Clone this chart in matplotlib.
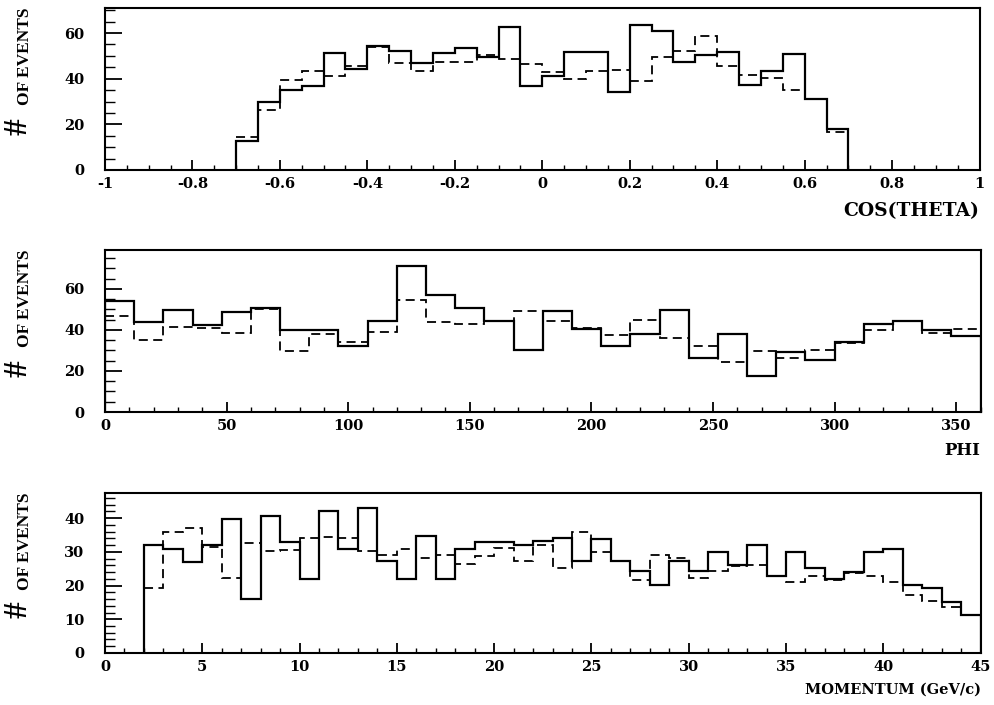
"""
Event distributions: cos(theta), phi, momentum
solid = data, dashed = MC
"""
import matplotlib
matplotlib.use("Agg")
import matplotlib.pyplot as plt
import numpy as np
from matplotlib.ticker import MultipleLocator, FuncFormatter

plt.rcParams["font.family"] = ["DejaVu Serif"]
plt.rcParams["font.weight"] = "bold"

# ============================================================
# data
# ============================================================
# cos(theta): 28 bins of 0.05 from -0.7 to 0.7
cos_edges = np.linspace(-0.7, 0.7, 29)
cos_data = [12.5, 29.9, 34.9, 37.0, 51.2, 44.1, 54.4, 52.2, 47.0, 51.2,
            53.4, 49.3, 62.5, 37.0, 41.2, 51.5, 51.5, 34.3, 63.7, 60.7,
            47.4, 50.4, 51.5, 37.2, 43.4, 50.7, 31.2, 18.1]
cos_mc = [14.3, 26.2, 39.4, 43.4, 41.2, 45.6, 53.7, 47.0, 43.4, 47.4,
          47.4, 50.4, 48.5, 46.6, 42.9, 39.7, 43.4, 43.7, 39.0, 49.3,
          52.2, 58.8, 45.6, 41.6, 40.4, 35.0, 31.2, 16.5]

# phi: 30 bins of 12 degrees
phi_edges = np.linspace(0, 360, 31)
phi_data = [54.0, 43.9, 49.6, 42.6, 48.9, 50.7, 39.8, 39.8, 32.0, 44.2,
            71.4, 57.2, 50.7, 44.2, 30.4, 49.1, 40.5, 32.4, 38.2, 49.9,
            26.3, 38.0, 17.7, 29.3, 25.5, 34.0, 43.1, 44.4, 40.2, 36.9]
phi_mc = [46.7, 35.3, 41.3, 41.0, 38.5, 50.2, 29.9, 38.2, 34.3, 38.9,
          54.5, 43.9, 42.9, 44.2, 49.1, 44.6, 41.0, 37.4, 44.7, 36.1,
          32.0, 24.4, 29.9, 26.3, 30.1, 33.7, 39.8, 44.2, 38.5, 40.5]

# momentum: 43 bins of 1 GeV/c from 2 to 45
mom_edges = np.linspace(2, 45, 44)
mom_data = [31.9, 30.8, 27.0, 31.9, 39.7, 16.0, 40.8, 32.9, 22.0, 42.0,
            30.8, 43.0, 27.2, 22.0, 34.8, 22.0, 30.9, 32.9, 32.9, 31.9,
            33.1, 34.1, 27.2, 33.9, 27.2, 24.2, 20.2, 27.2, 24.2, 30.1,
            26.0, 32.1, 22.9, 30.1, 25.2, 22.0, 24.0, 30.1, 30.9, 20.2,
            19.3, 15.1, 11.4]
mom_mc = [19.3, 36.0, 37.0, 31.4, 22.2, 32.6, 30.3, 30.6, 34.1, 34.3,
          34.1, 30.3, 29.1, 30.9, 28.1, 29.1, 26.4, 28.8, 31.1, 27.2,
          32.0, 25.2, 35.8, 30.1, 27.4, 21.7, 29.1, 28.1, 22.4, 24.4,
          25.9, 26.2, 22.7, 21.0, 22.9, 21.7, 23.7, 22.7, 21.2, 17.3,
          15.3, 13.5, 11.4]

# ============================================================
# figure
# ============================================================
fig = plt.figure(figsize=(9.95, 7.05), dpi=100)

panels = [
    # edges, data, mc, xlim, ylim, xmaj, xmin, ymaj, ymin, xlabel, size, rect, label y
    (cos_edges, cos_data, cos_mc, (-1, 1), (0, 71), 0.2, 0.05, 20, 5,
     "COS(THETA)", 13.5, [0.1055, 0.7589, 0.879, 0.2298], -0.255),
    (phi_edges, phi_data, phi_mc, (0, 360), (0, 79), 50, 10, 20, 5,
     "PHI", 12, [0.1055, 0.4156, 0.880, 0.2298], -0.240),
    (mom_edges, mom_data, mom_mc, (0, 45), (0, 47.5), 5, 1, 10, 2,
     "MOMENTUM (GeV/c)", 10.5, [0.1055, 0.0738, 0.880, 0.2270], -0.231),
]


def fmt(v, pos):
    v = round(v, 6)
    if v == 0:
        return "0"
    return f"{v:g}"


for (edges, data, mc, xlim, ylim, xmaj, xmin, ymaj, ymin,
     xlab, xlab_size, rect, xly) in panels:
    ax = fig.add_axes(rect)
    ax.stairs(mc, edges, baseline=None, color="black", lw=1.3,
              linestyle=(0, (5, 3)))
    ax.stairs(data, edges, baseline=0, color="black", lw=1.6)

    ax.set_xlim(*xlim)
    ax.set_ylim(*ylim)
    ax.xaxis.set_major_locator(MultipleLocator(xmaj))
    ax.xaxis.set_minor_locator(MultipleLocator(xmin))
    ax.yaxis.set_major_locator(MultipleLocator(ymaj))
    ax.yaxis.set_minor_locator(MultipleLocator(ymin))
    ax.xaxis.set_major_formatter(FuncFormatter(fmt))

    for s in ax.spines.values():
        s.set_linewidth(1.5)
    ax.tick_params(axis="x", which="major", direction="in", length=7,
                   width=1.3, pad=5, labelsize=10.5)
    ax.tick_params(axis="x", which="minor", direction="in", length=3.5,
                   width=1.0)
    ax.tick_params(axis="y", which="major", direction="in", length=12,
                   width=1.3, pad=15, labelsize=10.5)
    ax.tick_params(axis="y", which="minor", direction="in", length=7,
                   width=1.0)

    ax.text(1.0, xly, xlab, transform=ax.transAxes, ha="right",
            va="center", fontsize=xlab_size, fontweight="bold")
    ax.text(-0.099, 0.27, "#", transform=ax.transAxes, ha="center",
            va="center", rotation=90, fontsize=24, fontweight="bold",
            family="Liberation Serif")
    ax.text(-0.091, 0.70, "OF EVENTS", transform=ax.transAxes,
            ha="center", va="center", rotation=90, fontsize=12.5,
            fontweight="bold", family="Liberation Serif")

fig.savefig("out.png", dpi=100)
plt.close()
